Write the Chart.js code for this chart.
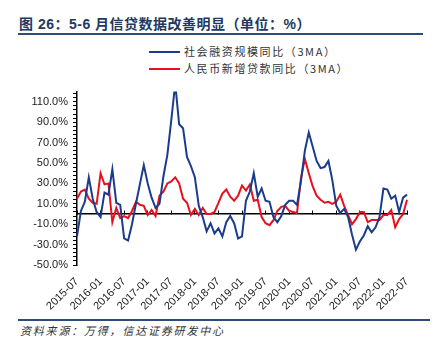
<!DOCTYPE html>
<html lang="zh">
<head>
  <meta charset="UTF-8">
  <title>图26</title>
  <style>
    body {
      margin: 0;
      width: 434px;
      height: 354px;
      background: #fff;
      position: relative;
      overflow: hidden;
      font-family: "Liberation Sans", Arial, "Noto Sans CJK SC", sans-serif;
    }
    .title {
      position: absolute;
      left: 19px;
      top: 13px;
      font-size: 14px;
      font-weight: bold;
      color: #22385f;
      letter-spacing: 0.5px;
      font-family: "Liberation Sans", "Noto Sans CJK SC", sans-serif;
      white-space: nowrap;
    }
    .rule {
      position: absolute;
      left: 18px;
      height: 2px;
      background: #2e4a78;
    }
    .legend {
      position: absolute;
      left: 149px;
      top: 43px;
      font-size: 11px;
      color: #333;
      font-family: "Noto Sans CJK SC", sans-serif;
      letter-spacing: 1.6px;
    }
    .legend div {
      height: 17px;
      line-height: 17px;
      white-space: nowrap;
    }
    .legend span.sw {
      display: inline-block;
      width: 31px;
      height: 2px;
      vertical-align: middle;
      margin-right: 4px;
      position: relative;
      top: -1px;
    }
    .source {
      position: absolute;
      left: 20px;
      top: 322px;
      font-size: 11px;
      font-style: italic;
      color: #333;
      letter-spacing: 1.8px;
      font-family: "Noto Sans CJK SC", sans-serif;
    }
    .chart-box {
      position: absolute;
      left: 0;
      top: 80px;
      width: 434px;
      height: 236px;
    }
  </style>
</head>
<body>
  <div class="title">图 26：5-6 月信贷数据改善明显（单位：%）</div>
  <div class="rule" style="top:33px;width:405px;"></div>

  <div class="legend">
    <div><span class="sw" style="background:#1b3c8c"></span>社会融资规模同比（3MA）</div>
    <div><span class="sw" style="background:#e8101e"></span>人民币新增贷款同比（3MA）</div>
  </div>

  <div class="chart-box">
    <canvas id="chart"></canvas>
  </div>

  <div class="rule" style="top:319px;width:412px;"></div>
  <div class="source">资料来源：万得，信达证券研发中心</div>

  <script src="https://cdn.jsdelivr.net/npm/chart.js"></script>
  <script>
    // 月份：2015-07 到 2022-07
    const months = [];
    for (let y = 2015; y <= 2022; y++) {
      for (let m = 1; m <= 12; m++) {
        if ((y === 2015 && m < 7) || (y === 2022 && m > 7)) continue;
        months.push(y + '-' + String(m).padStart(2, '0'));
      }
    }

    const xTickLabels = ['2015-07', '2016-01', '2016-07', '2017-01', '2017-07', '2018-01', '2018-07',
      '2019-01', '2019-07', '2020-01', '2020-07', '2021-01', '2021-07', '2022-01', '2022-07'];

    const yTickLabels = [-50, -30, -10, 10, 30, 50, 70, 90, 110];

    // 社会融资规模同比（3MA）
    const tsfYoy = [
      -22, 3, 12, 36, 15, 2, -3, 21, 19, 44, 11, 9,
      -24, -26, -10, 10, 29, 48, 30, 16, 6, 10, 37, 58,
      92, 128, 88, 84, 56, 47, 36, 8, -3, -17, -9, -19,
      -14, -22, -8, -2, -9, -24, -22, 13, 22, 40, 17, 25,
      13, 12, -3, -8, -2, 9, 13, 13, 9, 32, 62, 80,
      66, 52, 45, 46, 52, 33, 8, 1, 5, -3, -20, -35,
      -27, -21, -12, -18, -13, -3, 25, 24, 15, 18, 2, 16,
      19
    ];

    // 人民币新增贷款同比（3MA）
    const loanYoy = [
      15, 22, 24, 15, 11, 10, 40, 29, 30, -8, 6, -4,
      -2, -4, 3, 12, 9, 8, -1, 4, -2, 18, 22, 30,
      32, 36, 30, 15, 11, -1, 5, -1, 6, 0, 0, 2,
      11, 20, 24, 17, 13, 18, 28, 23, 29, 13, 14, -3,
      -9, -11, -6, 3, 7, 8, 3, 2, 1, 35, 54, 40,
      27, 18, 14, 11, 12, 10, 12, 19, 8, -1, -10, -5,
      2, 2, -8, -6, -6, -6, -1, -1, 4, -13, -5, 0,
      14
    ];

    // y 轴小刻度每 4%
    const yMinor = [];
    for (let v = -50; v < 120; v += 4) yMinor.push(v);

    const ctx = document.getElementById('chart').getContext('2d');
    new Chart(ctx, {
      type: 'line',
      data: {
        labels: months,
        datasets: [
          {
            label: '社会融资规模同比（3MA）',
            data: tsfYoy,
            borderColor: '#1b3c8c',
            borderWidth: 2,
            pointRadius: 0,
            tension: 0,
            xAxisID: 'x',
            yAxisID: 'y'
          },
          {
            label: '人民币新增贷款同比（3MA）',
            data: loanYoy,
            borderColor: '#e8101e',
            borderWidth: 2,
            pointRadius: 0,
            tension: 0,
            xAxisID: 'x',
            yAxisID: 'y'
          }
        ]
      },
      options: {
        responsive: true,
        maintainAspectRatio: false,
        animation: false,
        layout: { padding: { top: 10, right: 27, left: 0, bottom: 0 } },
        plugins: {
          legend: { display: false },
          tooltip: { enabled: false }
        },
        scales: {
          x: {
            position: 'bottom',
            offset: false,
            grid: { display: false },
            border: { display: false },
            ticks: {
              autoSkip: false,
              minRotation: 45,
              maxRotation: 45,
              padding: 2,
              color: '#222',
              font: { size: 11, family: '"Liberation Sans", Arial, sans-serif' },
              callback: function (v) {
                const lab = this.getLabelForValue(v);
                return xTickLabels.includes(lab) ? lab : null;
              }
            },
            afterFit: s => { s.height = 51; }
          },
          x2: {
            type: 'category',
            position: { y: 0 },
            offset: false,
            ticks: { display: false },
            grid: {
              drawOnChartArea: false,
              tickLength: -4,
              tickColor: c => xTickLabels.includes(months[c.index]) ? '#000' : 'rgba(0,0,0,0)'
            },
            border: { color: '#000', width: 1.5 }
          },
          y: {
            min: -50,
            max: 120,
            afterBuildTicks: s => { s.ticks = yMinor.map(v => ({ value: v })); },
            afterFit: s => { s.width = 77; },
            grid: {
              drawOnChartArea: false,
              tickLength: 4,
              tickColor: '#000'
            },
            border: { color: '#000', width: 1.5 },
            ticks: {
              autoSkip: false,
              padding: 5,
              color: '#222',
              font: { size: 11, family: '"Liberation Sans", Arial, sans-serif' },
              callback: v => yTickLabels.includes(v) ? v.toFixed(1) + '%' : ''
            }
          }
        }
      }
    });
  </script>
</body>
</html>
